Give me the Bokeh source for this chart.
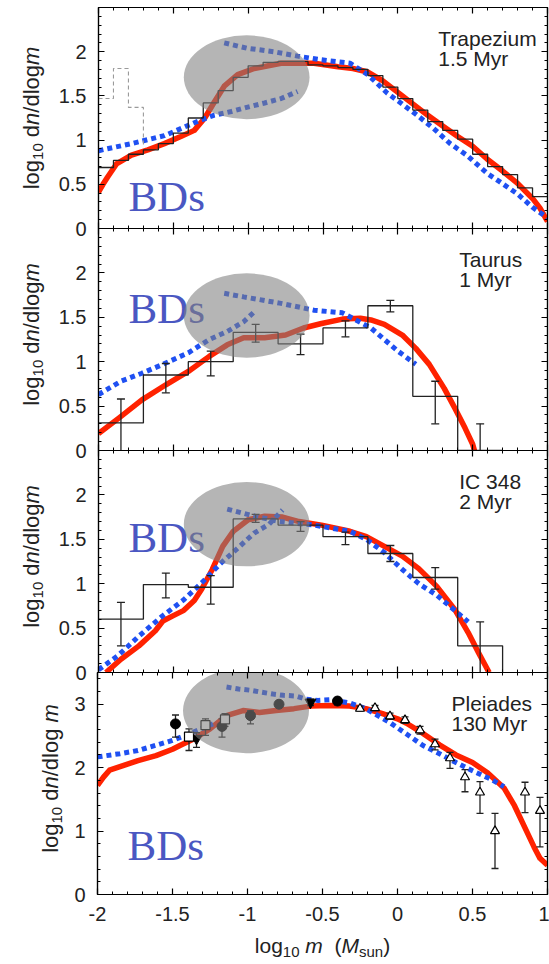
import math
from bokeh.plotting import figure
from bokeh.layouts import column, row
from bokeh.models import Range1d, LinearAxis, FixedTicker, Label, CustomJSTickFormatter
from bokeh.core.properties import value
from bokeh.embed import file_html
from bokeh.resources import INLINE

# ---------------- data ----------------
x_ticks = [-2, -1.5, -1, -0.5, 0, 0.5, 1]
x_tick_labels = ["-2", "-1.5", "-1", "-0.5", "0", "0.5", "1"]
y_ticks_young = [0, 0.5, 1, 1.5, 2]
y_tick_labels_young = ["0", "0.5", "1", "1.5", "2"]
y_ticks_pl = [0, 1, 2, 3]
y_tick_labels_pl = ["0", "1", "2", "3"]

cluster_names = ["Trapezium", "Taurus", "IC 348", "Pleiades"]
cluster_ages = ["1.5 Myr", "1 Myr", "2 Myr", "130 Myr"]

# Trapezium
trap_red_x = [-2.0, -1.97, -1.94, -1.88, -1.78, -1.67, -1.56, -1.45, -1.36, -1.29, -1.23, -1.16, -1.07, -0.96,
              -0.78, -0.56, -0.4, -0.3, -0.2, -0.1, 0.0, 0.1, 0.2, 0.3, 0.4, 0.5, 0.6, 0.7, 0.8, 0.9, 0.95, 1.0]
trap_red_y = [0.41, 0.5, 0.58, 0.73, 0.83, 0.89, 0.96, 1.04, 1.11, 1.25, 1.42, 1.61, 1.74, 1.81,
              1.87, 1.87, 1.83, 1.81, 1.77, 1.67, 1.54, 1.41, 1.28, 1.16, 1.04, 0.93, 0.78, 0.65, 0.51, 0.34, 0.23, 0.08]
trap_blue_lo_x = [-2.0, -1.78, -1.56, -1.45, -1.34, -1.23, -1.12, -1.01, -0.89, -0.78, -0.67]
trap_blue_lo_y = [0.88, 0.96, 1.05, 1.13, 1.21, 1.28, 1.32, 1.37, 1.42, 1.47, 1.55]
trap_blue_hi_x = [-1.16, -1.01, -0.83, -0.67, -0.52, -0.32, -0.2, -0.07, 0.02, 0.13, 0.24, 0.35, 0.46,
                  0.6, 0.68, 0.8, 0.9, 1.0]
trap_blue_hi_y = [2.10, 2.04, 2.0, 1.95, 1.91, 1.87, 1.74, 1.53, 1.42, 1.28, 1.13, 0.96, 0.83,
                  0.62, 0.53, 0.39, 0.24, 0.12]
trap_hist_edges = [-2.0, -1.9, -1.8, -1.7, -1.6, -1.5, -1.4, -1.3, -1.2, -1.1, -1.0, -0.9, -0.8, -0.7, -0.6,
                   -0.5, -0.4, -0.3, -0.2, -0.1, 0.0, 0.1, 0.2, 0.3, 0.4, 0.5, 0.6, 0.7, 0.8, 0.9, 1.0]
trap_hist = [0.69, 0.77, 0.84, 0.89, 0.96, 1.08, 1.25, 1.42, 1.56, 1.71, 1.84, 1.88, 1.89, 1.89, 1.85,
             1.84, 1.82, 1.80, 1.73, 1.60, 1.47, 1.34, 1.21, 1.11, 1.01, 0.84, 0.70, 0.61, 0.46, 0.36]
trap_old_edges = [-2.0, -1.9, -1.8, -1.7]
trap_old_hist = [1.47, 1.81, 1.37, 0.93]

# Taurus
taur_red_x = [-2.0, -1.86, -1.71, -1.55, -1.4, -1.26, -1.14, -1.03, -0.89, -0.75, -0.63, -0.51, -0.37, -0.25,
              -0.18, -0.09, 0.03, 0.12, 0.21, 0.31, 0.38, 0.45, 0.50, 0.52]
taur_red_y = [0.19, 0.37, 0.57, 0.74, 0.89, 1.06, 1.19, 1.27, 1.27, 1.30, 1.38, 1.43, 1.48, 1.49,
              1.47, 1.42, 1.30, 1.15, 0.97, 0.70, 0.48, 0.25, 0.07, -0.05]
taur_blue_lo_x = [-2.0, -1.85, -1.71, -1.57, -1.40, -1.26, -1.14, -1.03, -0.96]
taur_blue_lo_y = [0.63, 0.78, 0.87, 0.97, 1.10, 1.25, 1.34, 1.45, 1.56]
taur_blue_hi_x = [-1.16, -1.03, -0.79, -0.56, -0.37, -0.28, -0.18, -0.09, 0.0, 0.12]
taur_blue_hi_y = [1.77, 1.73, 1.66, 1.58, 1.55, 1.47, 1.38, 1.25, 1.12, 0.97]
taur_hist_edges = [-2.0, -1.7, -1.4, -1.1, -0.8, -0.5, -0.2, 0.1, 0.4, 0.7]
taur_hist = [0.31, 0.85, 1.0, 1.33, 1.20, 1.38, 1.63, 0.61, 0.0]
taur_bin_mid = [-1.85, -1.55, -1.25, -0.95, -0.65, -0.35, -0.05, 0.25, 0.55]
taur_err_hi = [0.58, 0.98, 1.12, 1.42, 1.31, 1.46, 1.69, 0.78, 0.30]
taur_err_lo = [-0.1, 0.65, 0.84, 1.22, 1.08, 1.28, 1.56, 0.30, -0.1]

# IC 348
ic_red_x = [-1.95, -1.85, -1.73, -1.62, -1.57, -1.5, -1.43, -1.36, -1.31, -1.24, -1.17, -1.1, -1.0, -0.89,
            -0.77, -0.66, -0.51, -0.32, -0.21, -0.09, 0.03, 0.14, 0.26, 0.38, 0.47, 0.54, 0.61]
ic_red_y = [0.0, 0.15, 0.30, 0.47, 0.58, 0.64, 0.70, 0.81, 0.94, 1.16, 1.42, 1.59, 1.72, 1.76,
            1.75, 1.70, 1.66, 1.59, 1.53, 1.42, 1.31, 1.17, 0.97, 0.71, 0.45, 0.22, 0.0]
ic_blue_lo_x = [-2.0, -1.87, -1.73, -1.57, -1.43, -1.31, -1.19, -1.07, -0.96, -0.86, -0.77]
ic_blue_lo_y = [0.03, 0.19, 0.41, 0.64, 0.82, 1.01, 1.22, 1.40, 1.57, 1.67, 1.83]
ic_blue_hi_x = [-1.14, -0.98, -0.79, -0.56, -0.32, -0.21, -0.09, 0.03, 0.14, 0.26, 0.38, 0.47]
ic_blue_hi_y = [1.84, 1.77, 1.70, 1.66, 1.59, 1.50, 1.35, 1.16, 1.00, 0.87, 0.70, 0.57]
ic_hist_edges = [-2.0, -1.7, -1.4, -1.1, -0.8, -0.5, -0.2, 0.1, 0.4, 0.7]
ic_hist = [0.60, 0.99, 0.96, 1.73, 1.66, 1.53, 1.34, 1.07, 0.30]
ic_bin_mid = [-1.85, -1.55, -1.25, -0.95, -0.65, -0.35, -0.05, 0.25, 0.55]
ic_err_hi = [0.79, 1.12, 1.09, 1.78, 1.70, 1.58, 1.43, 1.18, 0.57]
ic_err_lo = [0.30, 0.84, 0.77, 1.69, 1.59, 1.44, 1.25, 0.94, -0.1]

# Pleiades
pl_red_x = [-2.0, -1.96, -1.92, -1.82, -1.73, -1.61, -1.5, -1.45, -1.36, -1.25, -1.14, -1.03, -0.92, -0.81,
            -0.69, -0.58, -0.45, -0.32, -0.21, -0.1, 0.0, 0.06, 0.17, 0.28, 0.39, 0.5, 0.6, 0.71, 0.78,
            0.85, 0.91, 0.95, 1.0]
pl_red_y = [1.72, 1.85, 1.96, 2.04, 2.11, 2.19, 2.29, 2.35, 2.45, 2.61, 2.82, 2.90, 2.87, 2.90,
            2.93, 2.97, 2.98, 2.97, 2.93, 2.85, 2.77, 2.70, 2.54, 2.36, 2.20, 2.08, 1.92, 1.68, 1.40,
            1.05, 0.75, 0.57, 0.46]
pl_blue_lo_x = [-2.0, -1.85, -1.73, -1.6, -1.5, -1.4, -1.3, -1.23]
pl_blue_lo_y = [2.17, 2.22, 2.27, 2.36, 2.43, 2.52, 2.62, 2.69]
pl_blue_hi_x = [-1.14, -1.06, -0.98, -0.91, -0.83, -0.76, -0.68, -0.61, -0.53, -0.45, -0.32, -0.21, -0.16,
                -0.05, 0.06, 0.17, 0.28, 0.39, 0.5, 0.62, 0.71]
pl_blue_hi_y = [3.27, 3.24, 3.22, 3.19, 3.16, 3.14, 3.13, 3.08, 3.06, 3.07, 3.02, 2.93, 2.86,
                2.71, 2.53, 2.35, 2.22, 2.08, 1.95, 1.82, 1.70]
pl_circ_x = [-1.48, -1.17, -0.98, -0.79, -0.40]
pl_circ_y = [2.69, 2.65, 2.82, 3.00, 3.05]
pl_circ_hi = [2.83, 2.77, 2.90, 3.05, 3.10]
pl_circ_lo = [2.48, 2.48, 2.69, 2.95, 2.99]
pl_sq_x = [-1.39, -1.28, -1.15]
pl_sq_y = [2.49, 2.67, 2.76]
pl_sq_hi = [2.61, 2.77, 2.85]
pl_sq_lo = [2.27, 2.51, 2.65]
pl_inv_x = [-1.34, -0.58]
pl_inv_y = [2.46, 3.03]
pl_inv_hi = [2.55, 3.08]
pl_inv_lo = [2.32, 2.98]
pl_tri_x = [-0.25, -0.15, -0.05, 0.05, 0.15, 0.25, 0.35, 0.45, 0.55, 0.65, 0.85, 0.95]
pl_tri_y = [2.93, 2.94, 2.81, 2.75, 2.59, 2.37, 2.15, 1.85, 1.61, 1.00, 1.61, 1.32]
pl_tri_hi = [2.97, 2.98, 2.86, 2.80, 2.65, 2.45, 2.24, 1.97, 1.78, 1.28, 1.77, 1.53]
pl_tri_lo = [2.89, 2.90, 2.76, 2.70, 2.53, 2.28, 1.99, 1.62, 1.28, 0.41, 1.29, 0.75]

# shaded "BD" regions (data coordinates: centre, width, height) and BD text anchors
bd_ell_x = [-1.01, -1.01, -1.01, -1.01]
bd_ell_y = [1.71, 1.52, 1.67, 2.90]
bd_ell_w = [0.84, 0.84, 0.84, 0.84]
bd_ell_h = [0.95, 0.95, 0.95, 1.35]
bd_text_x = [-1.80, -1.80, -1.80, -1.80]
bd_text_y = [0.36, 1.60, 1.52, 0.77]
name_x = [0.27, 0.41, 0.41, 0.36]

# ---------------- styling ----------------
RED = "#ff2200"
BLUE = "#1f50f2"
INK = "#222222"
BDCOL = "#4a57c2"
FONT = "Liberation Sans"
FRAME_LEFT = 97

x_minor = [round(-2 + 0.1 * i, 1) for i in range(31)]
y_minor_young = [round(0.1 * i, 1) for i in range(26)]
y_minor_pl = [round(0.2 * i, 1) for i in range(18)]

AW = {' ': 278, '(': 333, ')': 333, '/': 278, '.': 278, '-': 333, 'a': 556, 'd': 556, 'g': 556,
      'i': 222, 'l': 222, 'm': 833, 'n': 556, 'o': 556, 's': 500, 'u': 556, 'M': 833}


def tw(s, size):
    return sum(AW.get(c, 556) for c in s) * size / 1000.0


def setup_axis(ax, ticks, minor, labels):
    ax.ticker = FixedTicker(ticks=ticks, minor_ticks=minor)
    ax.axis_line_color = "black"
    ax.axis_line_width = 1.2
    ax.major_tick_in = 6
    ax.major_tick_out = 0
    ax.minor_tick_in = 3
    ax.minor_tick_out = 0
    ax.major_tick_line_color = "black"
    ax.minor_tick_line_color = "black"
    ax.major_tick_line_width = 1.2
    ax.minor_tick_line_width = 1.0
    if labels is None:
        ax.formatter = CustomJSTickFormatter(code="return ''")
        ax.major_label_text_font_size = "0px"
        ax.major_label_standoff = 0
    else:
        ax.major_label_overrides = {float(t): l for t, l in zip(ticks, labels)}
        ax.major_label_text_font = FONT
        ax.major_label_text_font_size = "20px"
        ax.major_label_text_color = INK
        ax.major_label_standoff = 12


def bare(f):
    f.grid.visible = False
    f.outline_line_color = None
    f.background_fill_color = None
    f.border_fill_color = None
    return f


def make_panel(labw, height, top, bottom, ymax, yticks, yminor, ylabels, show_x):
    p = figure(width=549 - labw, height=height, x_range=Range1d(-2, 1), y_range=Range1d(0, ymax),
               x_axis_location=None, y_axis_location=None, output_backend="svg",
               toolbar_location=None, min_border_left=FRAME_LEFT - labw, min_border_right=2,
               min_border_top=top, min_border_bottom=bottom)
    p.grid.visible = False
    p.outline_line_color = "black"
    p.outline_line_width = 1.2
    p.background_fill_color = None
    p.border_fill_color = None
    for loc, ticks, minor, labels in [("below", x_ticks, x_minor, x_tick_labels if show_x else None),
                                      ("above", x_ticks, x_minor, None),
                                      ("left", yticks, yminor, ylabels),
                                      ("right", yticks, yminor, None)]:
        ax = LinearAxis()
        setup_axis(ax, ticks, minor, labels)
        p.add_layout(ax, loc)
    return p


def compose(f, pieces, x0, y0, vertical):
    cum = 0.0
    for text, size, style, shift in pieces:
        stripped = text.lstrip(" ")
        cum += tw(text[:len(text) - len(stripped)], size)
        if stripped:
            if vertical:
                x, y, ang = x0 + shift, y0 + cum, math.pi / 2
            else:
                x, y, ang = x0 + cum, y0 - shift, 0.0
            f.text(x=[x], y=[y], text=[stripped], angle=ang, text_font=value(FONT),
                   text_font_size=value(f"{size}px"), text_font_style=value(style),
                   text_color=INK, text_align="left", text_baseline="alphabetic")
        cum += tw(stripped, size)


def make_ytitle(labw, height, top, bottom, baseline_x, shift_center, spaced):
    frame_h = height - top - bottom
    f = bare(figure(width=labw, height=height, x_range=Range1d(0, labw), y_range=Range1d(0, frame_h),
                    x_axis_location=None, y_axis_location=None, output_backend="svg",
                    toolbar_location=None, min_border_left=0, min_border_right=0,
                    min_border_top=top, min_border_bottom=bottom))
    pieces = [("log", 22, "normal", 0), ("10", 15, "normal", 6), (" d", 22, "normal", 0),
              ("n", 22, "italic", 0), ("/dlog " if spaced else "/dlog", 22, "normal", 0),
              ("m", 22, "italic", 0)]
    total = sum(tw(t, s) for t, s, _, _ in pieces)
    compose(f, pieces, baseline_x, frame_h / 2 + shift_center - total / 2, True)
    return f


def draw_common(p, red_x, red_y, blo_x, blo_y, bhi_x, bhi_y):
    p.line(red_x, red_y, line_color=RED, line_width=5.5, line_join="round")
    p.line(blo_x, blo_y, line_color=BLUE, line_width=5, line_dash="5 4")
    p.line(bhi_x, bhi_y, line_color=BLUE, line_width=5, line_dash="5 4")


def draw_errors(p, xs, lo, hi, cap=8):
    p.segment(x0=xs, y0=lo, x1=xs, y1=hi, line_color=INK, line_width=1.3)
    p.scatter(xs, hi, marker="dash", size=cap, line_color=INK, line_width=1.3)
    p.scatter(xs, lo, marker="dash", size=cap, line_color=INK, line_width=1.3)


def finish(p, i, ymax):
    p.text(x=[bd_text_x[i]], y=[bd_text_y[i]], text=["BDs"], text_font=value("Liberation Serif"),
           text_font_size=value("43px"), text_color=BDCOL, text_baseline="alphabetic", text_align="left")
    p.ellipse(x=[bd_ell_x[i]], y=[bd_ell_y[i]], width=[bd_ell_w[i]], height=[bd_ell_h[i]],
              fill_color="#7f7f7f", fill_alpha=0.58, line_color=None)
    for txt, off in [(cluster_names[i], -31), (cluster_ages[i], -51)]:
        p.add_layout(Label(x=name_x[i], y=ymax, y_offset=off, text=txt, text_font=FONT,
                           text_font_size="21px", text_color=INK, text_align="left",
                           text_baseline="alphabetic"))


OVER = 10   # bottom border that lets the "0" tick label sit across the shared edge
LW_Y = 55   # title strip width for panels whose tick labels read "1.5"
LW_P = 64   # title strip width for the Pleiades panel (single-digit tick labels)

# ---- panel 1: Trapezium
p1 = make_panel(LW_Y, 7 + 221 + OVER, 7, OVER, 2.5, y_ticks_young, y_minor_young, y_tick_labels_young, False)
draw_common(p1, trap_red_x, trap_red_y, trap_blue_lo_x, trap_blue_lo_y, trap_blue_hi_x, trap_blue_hi_y)
p1.step(trap_old_edges, trap_old_hist, mode="after", line_color="#9a9a9a", line_width=1.1, line_dash="4 3")
p1.step(trap_hist_edges, trap_hist + [trap_hist[-1]], mode="after", line_color=INK, line_width=1.3)
finish(p1, 0, 2.5)
t1 = make_ytitle(LW_Y, 7 + 221 + OVER, 7, OVER, 31, 0, False)

# ---- panel 2: Taurus
p2 = make_panel(LW_Y, 222 + OVER, 0, OVER, 2.5, y_ticks_young, y_minor_young, y_tick_labels_young, False)
draw_common(p2, taur_red_x, taur_red_y, taur_blue_lo_x, taur_blue_lo_y, taur_blue_hi_x, taur_blue_hi_y)
p2.step(taur_hist_edges, taur_hist + [taur_hist[-1]], mode="after", line_color=INK, line_width=1.3)
draw_errors(p2, taur_bin_mid, taur_err_lo, taur_err_hi)
finish(p2, 1, 2.5)
t2 = make_ytitle(LW_Y, 222 + OVER, 0, OVER, 31, 5, False)

# ---- panel 3: IC 348
p3 = make_panel(LW_Y, 222 + OVER, 0, OVER, 2.5, y_ticks_young, y_minor_young, y_tick_labels_young, False)
draw_common(p3, ic_red_x, ic_red_y, ic_blue_lo_x, ic_blue_lo_y, ic_blue_hi_x, ic_blue_hi_y)
p3.step(ic_hist_edges, ic_hist + [0.0], mode="after", line_color=INK, line_width=1.3)
draw_errors(p3, ic_bin_mid, ic_err_lo, ic_err_hi)
finish(p3, 2, 2.5)
t3 = make_ytitle(LW_Y, 222 + OVER, 0, OVER, 31, 5, False)

# ---- panel 4: Pleiades
p4 = make_panel(LW_P, 222 + 40, 0, 40, 3.5, y_ticks_pl, y_minor_pl, y_tick_labels_pl, True)
draw_common(p4, pl_red_x, pl_red_y, pl_blue_lo_x, pl_blue_lo_y, pl_blue_hi_x, pl_blue_hi_y)
draw_errors(p4, pl_circ_x, pl_circ_lo, pl_circ_hi, 7)
draw_errors(p4, pl_sq_x, pl_sq_lo, pl_sq_hi, 7)
draw_errors(p4, pl_inv_x, pl_inv_lo, pl_inv_hi, 7)
draw_errors(p4, pl_tri_x, pl_tri_lo, pl_tri_hi, 7)
p4.scatter(pl_circ_x, pl_circ_y, marker="circle", size=10, fill_color="black", line_color="black")
p4.scatter(pl_inv_x, pl_inv_y, marker="inverted_triangle", size=11, fill_color="black", line_color="black")
p4.scatter(pl_sq_x, pl_sq_y, marker="square", size=9, fill_color="white", line_color="black", line_width=1.2)
p4.scatter(pl_tri_x, pl_tri_y, marker="triangle", size=9, fill_color="white", line_color="black", line_width=1.2)
finish(p4, 3, 3.5)
t4 = make_ytitle(LW_P, 222 + 40, 0, 40, 50, 5, True)

# ---- x title strip
xt = bare(figure(width=549, height=30, x_range=Range1d(0, 549), y_range=Range1d(0, 30),
                 x_axis_location=None, y_axis_location=None, output_backend="svg",
                 toolbar_location=None, min_border_left=0, min_border_right=0,
                 min_border_top=0, min_border_bottom=0))
xl_pieces = [("log", 21, "normal", 0), ("10", 15, "normal", 6), (" m", 21, "italic", 0),
             ("  (", 21, "normal", 0), ("M", 21, "italic", 0), ("sun", 15, "normal", 6), (")", 21, "normal", 0)]
xl_total = sum(tw(t, s) for t, s, _, _ in xl_pieces)
compose(xt, xl_pieces, 322 - xl_total / 2, 19, False)

r1 = row(t1, p1)
r2 = row(t2, p2, margin=(-OVER, 0, 0, 0))
r3 = row(t3, p3, margin=(-OVER, 0, 0, 0))
r4 = row(t4, p4, margin=(-OVER, 0, 0, 0))
layout = column(r1, r2, r3, r4, xt)
open("out.html", "w").write(file_html(layout, INLINE))
